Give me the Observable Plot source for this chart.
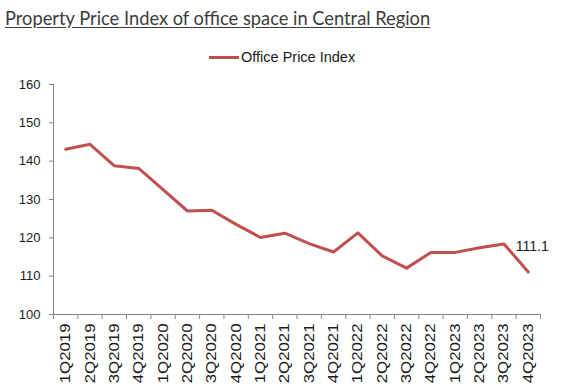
<!DOCTYPE html>
<html><head><meta charset="utf-8">
<script src="https://cdn.jsdelivr.net/npm/d3@7"></script>
<script src="https://cdn.jsdelivr.net/npm/@observablehq/plot@0.6"></script>
<style>
body{margin:0;background:#fff;width:571px;height:386px;overflow:hidden;position:relative;}
#title{position:absolute;left:5px;top:6px;font-family:Lato,sans-serif;font-size:18.3px;color:#3c3c3c;text-decoration:underline;text-underline-offset:2px;white-space:nowrap;line-height:24px;}
#legend{position:absolute;left:209px;top:48px;height:18px;display:flex;align-items:center;font-family:"Liberation Sans",Arial,sans-serif;font-size:14.5px;color:#1a1a1a;white-space:nowrap;}
#legend .sw{width:30px;height:3px;background:#c0504d;margin-right:2px;}
#chart{position:absolute;left:0;top:70px;}
</style>
</head><body>
<div id="title">Property Price Index of office space in Central Region</div>
<div id="legend"><span class="sw"></span><span>Office Price Index</span></div>
<div id="chart"></div>
<script>
const quarters = ["1Q2019","2Q2019","3Q2019","4Q2019","1Q2020","2Q2020","3Q2020","4Q2020","1Q2021","2Q2021","3Q2021","4Q2021","1Q2022","2Q2022","3Q2022","4Q2022","1Q2023","2Q2023","3Q2023","4Q2023"];
const officeIndex = [143.1,144.4,138.8,138.1,132.6,127.0,127.2,123.5,120.1,121.2,118.5,116.3,121.3,115.3,112.1,116.2,116.2,117.4,118.4,111.1];
const yTicks = [100,110,120,130,140,150,160];
const lastLabel = "111.1";

const data = quarters.map((q, i) => ({i, q, v: officeIndex[i]}));
const xDomain = [-0.5, quarters.length - 0.5];
const boundaries = d3.range(quarters.length + 1).map(k => k - 0.5);
const font = "'Liberation Sans', Arial, sans-serif";

const chart = Plot.plot({
  width: 571,
  height: 316,
  marginTop: 14,
  marginBottom: 72,
  marginLeft: 53,
  marginRight: 31,
  style: {fontFamily: font, background: "white", color: "#1a1a1a"},
  x: {type: "linear", domain: xDomain},
  y: {domain: [100, 160]},
  marks: [
    Plot.axisY({ticks: yTicks, tickSize: 4, tickPadding: 9, fontSize: 13, stroke: "#888", label: null, tickFormat: d => String(d)}),
    Plot.axisX({ticks: boundaries, tickSize: 5, stroke: "#888", tickFormat: () => "", label: null}),
    Plot.axisX({ticks: d3.range(quarters.length), tickSize: 0, tickPadding: 9, tickRotate: -90, textAnchor: "end", fontSize: 14, tickFormat: i => quarters[i], label: null}),
    Plot.ruleX([xDomain[0]], {stroke: "#888"}),
    Plot.ruleY([100], {stroke: "#888"}),
    Plot.line(data, {x: "i", y: "v", stroke: "#c0504d", strokeWidth: 3, strokeLinejoin: "round"}),
    Plot.text(data.slice(-1), {x: "i", y: "v", text: () => lastLabel, dy: -25, dx: 4, fontSize: 14, fill: "#1a1a1a"})
  ]
});
document.getElementById("chart").appendChild(chart);

// stretch rotated quarter labels lengthwise to match reference proportions
const qset = new Set(quarters);
chart.querySelectorAll("text").forEach(t => {
  if (qset.has(t.textContent)) {
    const tr = t.getAttribute("transform");
    if (tr && tr.includes("rotate")) t.setAttribute("transform", tr + " scale(1.2,1)");
  }
});
</script>
</body></html>
